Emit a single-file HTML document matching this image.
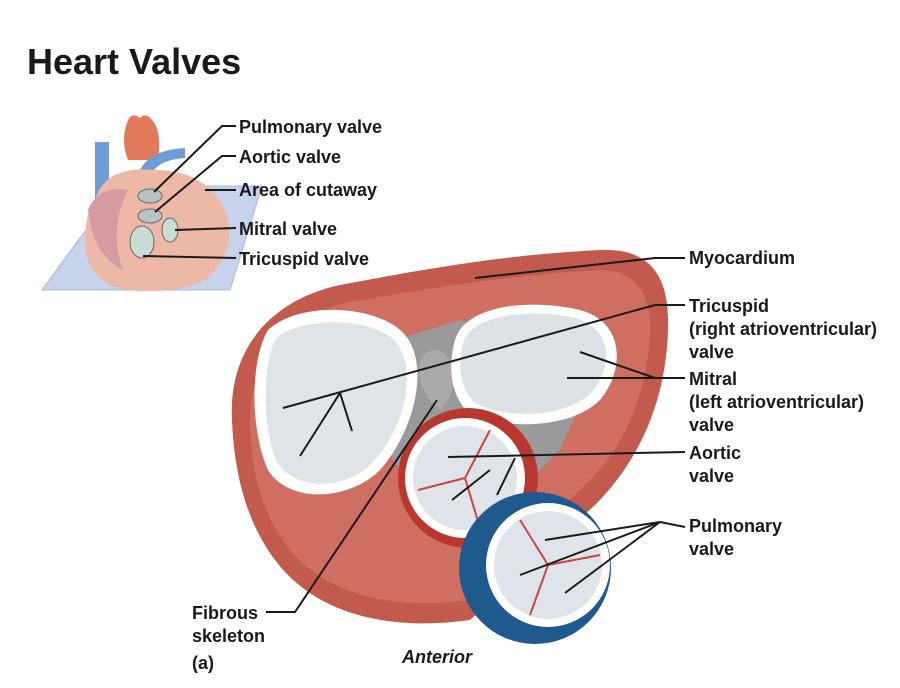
<!DOCTYPE html>
<html><head><meta charset="utf-8"><style>
html,body{margin:0;padding:0;background:#fff;width:900px;height:688px;overflow:hidden}
svg{display:block}
text{font-family:"Liberation Sans",Arial,sans-serif;font-weight:bold;fill:#1a1a1a}
</style></head><body>
<svg width="900" height="688" viewBox="0 0 900 688">
<text x="27" y="74" font-size="36" style="font-family:'Liberation Sans',sans-serif">Heart Valves</text>

<!-- inset -->
<polygon points="42,290 230,290 262,186 118,186" fill="#c7d3ea" stroke="#a9b8d8"/>
<path d="M128,120 q4,-8 12,-2 q6,-6 12,2 q10,10 6,40 l-30,0 q-8,-20 0,-40z" fill="#e07a5a"/>
<rect x="95" y="142" width="14" height="60" fill="#6f9bd6"/>
<path d="M140,170 q10,-20 45,-22 l0,10 q-30,2 -35,20z" fill="#6f9bd6"/>
<path d="M95,200 q10,-35 60,-30 q50,0 70,40 q15,40 -20,70 q-30,15 -80,10 q-40,-10 -40,-50 q0,-25 10,-40z" fill="#eeb8a6"/>
<path d="M88,210 q10,-25 40,-20 q-20,40 -5,80 q-30,-15 -35,-60z" fill="#d79aa0"/>
<ellipse cx="150" cy="196" rx="12" ry="7" fill="#b9c3c1" stroke="#666"/>
<ellipse cx="150" cy="216" rx="12" ry="7" fill="#b9c3c1" stroke="#666"/>
<ellipse cx="170" cy="230" rx="8" ry="12" fill="#c9ddd3" stroke="#666"/>
<ellipse cx="142" cy="242" rx="12" ry="16" fill="#c9ddd3" stroke="#666"/>

<g stroke="#1a1a1a" stroke-width="2" fill="none">
<polyline points="236,126 222,126 154,192"/>
<polyline points="236,156 222,156 155,212"/>
<polyline points="236,190 205,190"/>
<polyline points="236,228 175,230"/>
<polyline points="236,258 143,256"/>
</g>
<g font-size="18">
<text x="239" y="133">Pulmonary valve</text>
<text x="239" y="163">Aortic valve</text>
<text x="239" y="196">Area of cutaway</text>
<text x="239" y="235">Mitral valve</text>
<text x="239" y="265">Tricuspid valve</text>
</g>

<!-- main heart -->
<path d="M232,420 C228,350 270,300 340,285 C420,270 500,255 600,250 C650,248 670,275 668,330 C666,400 640,460 595,505 L470,620 C400,630 320,620 275,560 C245,520 234,470 232,420Z" fill="#c25a4e"/>
<path d="M250,420 C250,360 290,315 350,302 C430,288 510,275 600,270 C640,270 652,300 650,335 C646,395 625,445 590,480 L470,600 C400,610 330,598 290,550 C262,515 250,470 250,420Z" fill="#cf6f62"/>
<path d="M330,360 L460,320 L600,360 L560,450 L470,540 L400,470Z" fill="#9a9a9a"/>
<path d="M420,360 q15,-20 30,0 q10,30 -10,50 q-25,-20 -20,-50z" fill="#aaa"/>
<!-- tricuspid -->
<path d="M268,330 C300,300 380,305 405,335 C430,365 415,430 380,470 C350,500 290,505 268,470 C250,430 250,360 268,330Z" fill="#fff"/>
<path d="M276,338 C305,315 375,318 396,342 C418,370 405,428 373,462 C347,490 296,492 277,462 C262,428 262,366 276,338Z" fill="#dfe4e8"/>
<!-- mitral -->
<path d="M455,340 C465,305 530,298 580,310 C625,322 625,370 600,400 C570,430 500,430 468,412 C450,395 448,365 455,340Z" fill="#fff"/>
<path d="M463,343 C472,314 530,308 576,318 C614,330 612,368 592,392 C565,419 505,419 475,403 C460,390 457,364 463,343Z" fill="#dde2e6"/>
<!-- aortic -->
<circle cx="468" cy="478" r="70" fill="#b8382f"/>
<circle cx="465" cy="478" r="60" fill="#fff"/>
<circle cx="465" cy="478" r="52" fill="#dfe4ea"/>
<g stroke="#c44" stroke-width="2"><line x1="465" y1="478" x2="490" y2="430"/><line x1="465" y1="478" x2="418" y2="490"/><line x1="465" y1="478" x2="480" y2="528"/></g>
<!-- pulmonary -->
<circle cx="535" cy="568" r="76" fill="#1f5a8f"/>
<circle cx="548" cy="565" r="62" fill="#fff"/>
<circle cx="548" cy="565" r="54" fill="#dfe4ea"/>
<g stroke="#c44" stroke-width="2"><line x1="548" y1="565" x2="520" y2="520"/><line x1="548" y1="565" x2="600" y2="555"/><line x1="548" y1="565" x2="530" y2="615"/></g>

<g stroke="#1a1a1a" stroke-width="2" fill="none">
<polyline points="685,258 655,258 475,278"/>
<polyline points="685,305 655,305 283,408"/>
<polyline points="300,456 340,393 352,431"/>
<polyline points="580,352 655,378 567,378"/>
<line x1="655" y1="378" x2="685" y2="378"/>
<polyline points="685,452 448,457"/>
<polyline points="452,500 490,470"/>
<polyline points="497,495 515,458"/>
<polyline points="545,540 660,522 520,575"/>
<polyline points="660,522 565,593"/>
<line x1="660" y1="522" x2="685" y2="527"/>
<polyline points="266,612 295,612 437,400"/>
</g>
<g font-size="18">
<text x="689" y="264">Myocardium</text>
<text x="689" y="312">Tricuspid</text>
<text x="689" y="335">(right atrioventricular)</text>
<text x="689" y="358">valve</text>
<text x="689" y="385">Mitral</text>
<text x="689" y="408">(left atrioventricular)</text>
<text x="689" y="431">valve</text>
<text x="689" y="459">Aortic</text>
<text x="689" y="482">valve</text>
<text x="689" y="532">Pulmonary</text>
<text x="689" y="555">valve</text>
<text x="192" y="619">Fibrous</text>
<text x="192" y="642">skeleton</text>
<text x="192" y="669">(a)</text>
<text x="402" y="663" font-style="italic">Anterior</text>
</g>
</svg>
</body></html>
